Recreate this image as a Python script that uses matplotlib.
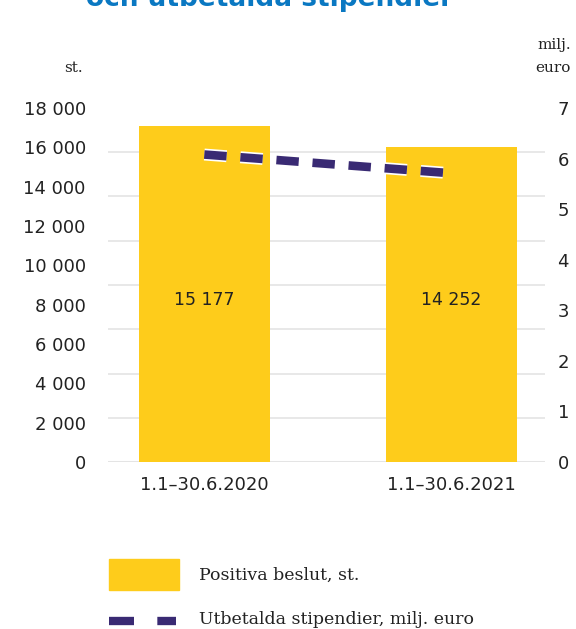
import matplotlib
matplotlib.use("Agg")
import matplotlib.pyplot as plt
import matplotlib.patheffects as pe
from matplotlib.patches import Rectangle
from matplotlib.lines import Line2D
import numpy as np

# Data
categories = ["1.1–30.6.2020", "1.1–30.6.2021"]
bar_heights = [17080, 16030]          # bar heights
bar_labels = ["15 177", "14 252"]     # values printed inside the bars
payouts = [6.08, 5.71]                # milj. euro (right axis)
left_ticks = [0, 2000, 4000, 6000, 8000, 10000, 12000, 14000, 16000, 18000]
left_ticklabels = ["0", "2 000", "4 000", "6 000", "8 000", "10 000",
                   "12 000", "14 000", "16 000", "18 000"]
right_ticks = [0, 1, 2, 3, 4, 5, 6, 7]
legend_labels = ["Positiva beslut, st.", "Utbetalda stipendier, milj. euro"]
title = "och utbetalda stipendier"

YELLOW = "#FECC1B"
PURPLE = "#392A73"
GRID = "#E4E4E4"
TXT = "#222222"
BLUE = "#0A78C2"
SANS = "DejaVu Sans"
SERIF = "DejaVu Serif"

W, H = 576, 629
fig = plt.figure(figsize=(W / 100, H / 100), dpi=100)
ax = fig.add_axes([108 / W, 1 - 462 / H, (545 - 108) / W, (462 - 108) / H])

x = np.arange(len(categories))
ax.bar(x, bar_heights, width=0.53, color=YELLOW, zorder=2)
ax.set_xlim(-0.39, 1.38)
ax.set_ylim(0, 18000)
for xi, lab in zip(x, bar_labels):
    ax.text(xi, 8240, lab, ha="center", va="center", fontsize=12.5,
            color=TXT, family=SANS, zorder=3)

ax.set_yticks(left_ticks)
ax.set_yticklabels(left_ticklabels, fontsize=13, color=TXT, family=SANS)
ax.set_yticks(np.linspace(0, 18000, 9), minor=True)
ax.grid(True, which="minor", axis="y", color=GRID, linewidth=1.2, zorder=0)
ax.grid(False, which="major")
ax.tick_params(axis="y", which="both", length=0, pad=16)
ax.set_xticks(x)
ax.set_xticklabels(categories, fontsize=13, color=TXT, family=SANS)
ax.tick_params(axis="x", length=0, pad=10)
for s in ax.spines.values():
    s.set_visible(False)
ax.axhline(0, color=GRID, linewidth=2.2, zorder=1)

ax2 = ax.twinx()
ax2.set_ylim(0, 7)
ax2.set_yticks(right_ticks)
ax2.set_yticklabels([str(t) for t in right_ticks], fontsize=13, color=TXT, family=SANS)
ax2.tick_params(axis="y", length=0, pad=9)
for s in ax2.spines.values():
    s.set_visible(False)
line, = ax2.plot(x, payouts, color=PURPLE, linewidth=6.2, dashes=(2.6, 1.6),
                 solid_capstyle="butt", dash_capstyle="butt", zorder=4)
line.set_path_effects([pe.Stroke(linewidth=8.6, foreground="white"), pe.Normal()])

# axis unit labels
fig.text(83 / W, 1 - 68 / H, "st.", ha="right", va="center", fontsize=11,
         color=TXT, family=SERIF)
fig.text(571 / W, 1 - 45 / H, "milj.", ha="right", va="center", fontsize=11,
         color=TXT, family=SERIF)
fig.text(571 / W, 1 - 68 / H, "euro", ha="right", va="center", fontsize=11,
         color=TXT, family=SERIF)

# title (cut off at the top, as in the reference)
fig.text(270 / W, 1 - 6 / H, title, ha="center", va="baseline", fontsize=19,
         color=BLUE, family=SANS, fontweight="bold")

# legend
fig.patches.append(Rectangle((109 / W, 1 - 590 / H), 70 / W, 31 / H,
                             transform=fig.transFigure, color=YELLOW))
fig.lines.append(Line2D([109 / W, 176 / W], [1 - 621 / H, 1 - 621 / H],
                        transform=fig.transFigure, color=PURPLE, linewidth=6,
                        dashes=(3.0, 2.8), dash_capstyle="butt"))
fig.text(199 / W, 1 - 575 / H, legend_labels[0], ha="left", va="center",
         fontsize=12.5, color=TXT, family=SERIF)
fig.text(199 / W, 1 - 619 / H, legend_labels[1], ha="left", va="center",
         fontsize=12.5, color=TXT, family=SERIF)

fig.savefig("out.png", dpi=100)
